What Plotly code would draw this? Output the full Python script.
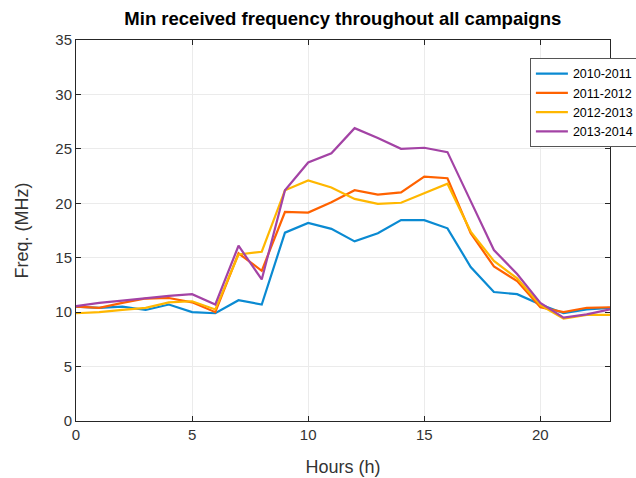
import plotly.graph_objects as go

hours = list(range(24))

freq_2010_2011 = [10.5, 10.4, 10.5, 10.2, 10.7, 10.0, 9.9, 11.1, 10.7, 17.3, 18.2, 17.65,
                  16.5, 17.25, 18.45, 18.45, 17.7, 14.15, 11.85, 11.65, 10.7, 9.9, 10.25, 10.4]
freq_2011_2012 = [10.5, 10.4, 10.85, 11.25, 11.3, 10.9, 10.0, 15.4, 13.8, 19.2, 19.15, 20.1,
                  21.2, 20.8, 21.0, 22.45, 22.3, 17.25, 14.2, 12.85, 10.45, 10.0, 10.4, 10.45]
freq_2012_2013 = [9.9, 10.0, 10.2, 10.4, 10.9, 11.0, 10.25, 15.3, 15.55, 21.2, 22.1, 21.45,
                  20.4, 19.95, 20.05, 20.9, 21.8, 17.4, 14.7, 13.1, 10.65, 9.4, 9.75, 9.75]
freq_2013_2014 = [10.55, 10.85, 11.05, 11.3, 11.5, 11.65, 10.7, 16.1, 13.0, 21.2, 23.75, 24.6,
                  26.9, 26.0, 25.0, 25.1, 24.7, 20.2, 15.7, 13.5, 10.85, 9.5, 9.8, 10.25]

series = [
    ("2010-2011", freq_2010_2011, "#0A8AD2"),
    ("2011-2012", freq_2011_2012, "#FF6200"),
    ("2012-2013", freq_2012_2013, "#FFB700"),
    ("2013-2014", freq_2013_2014, "#A343A5"),
]

x_ticks = [0, 5, 10, 15, 20]
y_ticks = [0, 5, 10, 15, 20, 25, 30, 35]

FONT = "Liberation Sans, Arial, Helvetica"

fig = go.Figure()
for name, values, color in series:
    fig.add_trace(go.Scatter(x=hours, y=values, mode="lines", name=name,
                             line=dict(color=color, width=2.2)))

axis_common = dict(
    showgrid=True, gridcolor="#EBEBEB", gridwidth=1,
    showline=True, linecolor="#262626", linewidth=1,
    ticks="inside", ticklen=5, tickcolor="#262626", mirror="ticks",
    tickfont=dict(family=FONT, size=15, color="#333333"),
    zeroline=False,
)

fig.update_layout(
    width=636, height=478,
    margin=dict(l=76, r=26, t=40, b=57, autoexpand=False),
    paper_bgcolor="white", plot_bgcolor="white",
    title=dict(text="<b>Min received frequency throughout all campaigns</b>",
               x=0.539, xanchor="center", y=0.962, yanchor="middle",
               font=dict(family=FONT, size=18.5, color="black")),
    xaxis=dict(axis_common, range=[0, 23], tickvals=x_ticks,
               title=dict(text="Hours (h)", standoff=18,
                          font=dict(family=FONT, size=18, color="#333333"))),
    yaxis=dict(axis_common, range=[0, 35], tickvals=y_ticks,
               title=dict(text="Freq. (MHz)", standoff=22,
                          font=dict(family=FONT, size=18, color="#333333"))),
    legend=dict(x=0.85, y=0.953, xanchor="left", yanchor="top",
                bgcolor="white", bordercolor="#555555", borderwidth=1,
                font=dict(family=FONT, size=12.5, color="black"),
                itemwidth=32, tracegroupgap=0),
    showlegend=True,
)

fig.write_html("out.html")
